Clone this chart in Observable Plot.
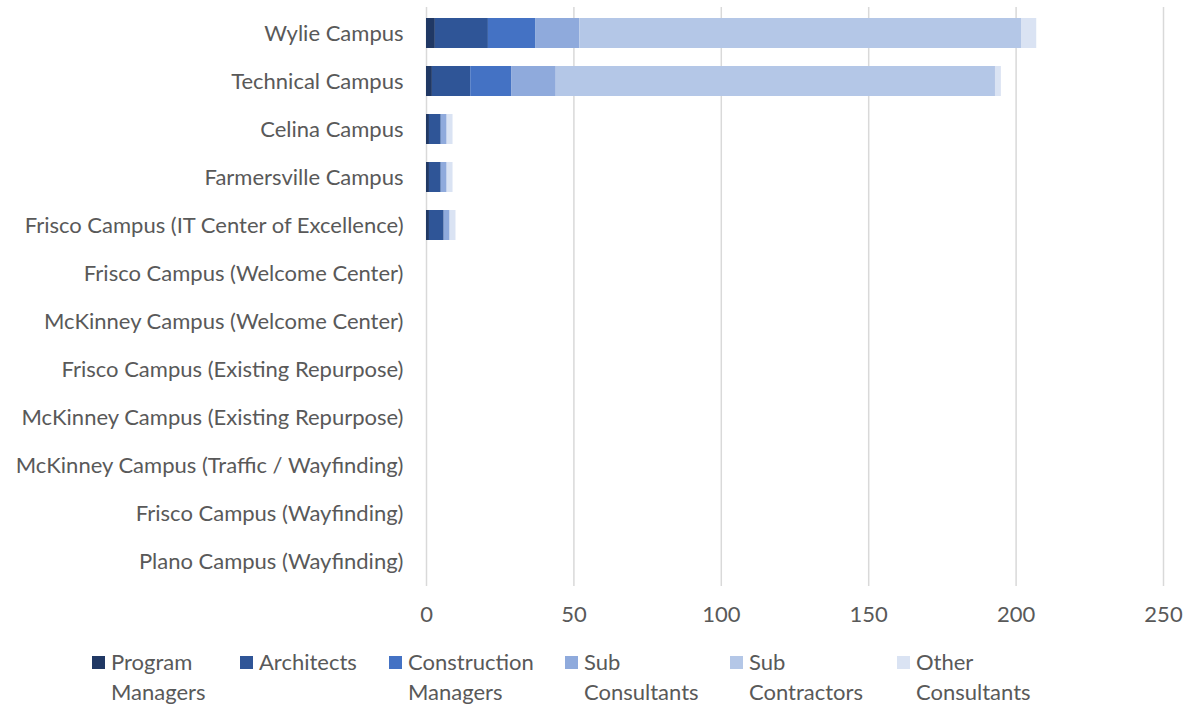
<!DOCTYPE html>
<html>
<head>
<meta charset="utf-8">
<script src="https://cdn.jsdelivr.net/npm/d3@7"></script>
<script src="https://cdn.jsdelivr.net/npm/@observablehq/plot@0.6"></script>
<style>
  html, body { margin: 0; padding: 0; background: #fff; }
  body { width: 1195px; height: 706px; overflow: hidden; font-family: Lato, sans-serif; }
  #chart svg { display: block; }
  #legend { position: relative; height: 66px; color: #595959; font-size: 22px; font-family: Lato, sans-serif; }
  .item { position: absolute; top: 7px; display: flex; align-items: flex-start; }
  .sw { width: 13px; height: 13px; margin-top: 9px; margin-right: 6px; flex: none; }
  .lab { white-space: pre-line; line-height: 30px; }
</style>
</head>
<body>
<div id="chart"></div>
<div id="legend"></div>
<script>
const campuses = [
  "Wylie Campus",
  "Technical Campus",
  "Celina Campus",
  "Farmersville Campus",
  "Frisco Campus (IT Center of Excellence)",
  "Frisco Campus (Welcome Center)",
  "McKinney Campus (Welcome Center)",
  "Frisco Campus (Existing Repurpose)",
  "McKinney Campus (Existing Repurpose)",
  "McKinney Campus (Traffic / Wayfinding)",
  "Frisco Campus (Wayfinding)",
  "Plano Campus (Wayfinding)"
];
const types = ["Program Managers", "Architects", "Construction Managers", "Sub Consultants", "Sub Contractors", "Other Consultants"];
const legendLabels = ["Program\nManagers", "Architects", "Construction\nManagers", "Sub\nConsultants", "Sub\nContractors", "Other\nConsultants"];
const colors = ["#203864", "#2f5597", "#4472c4", "#8faadc", "#b4c7e7", "#dae3f3"];

const programManagers      = [3, 2, 1, 1, 1, 0, 0, 0, 0, 0, 0, 0];
const architects           = [18, 13, 4, 4, 5, 0, 0, 0, 0, 0, 0, 0];
const constructionManagers = [16, 14, 0, 0, 0, 0, 0, 0, 0, 0, 0, 0];
const subConsultants       = [15, 15, 2, 2, 2, 0, 0, 0, 0, 0, 0, 0];
const subContractors       = [150, 149, 0, 0, 0, 0, 0, 0, 0, 0, 0, 0];
const otherConsultants     = [5, 2, 2, 2, 2, 0, 0, 0, 0, 0, 0, 0];
const xTicks = [0, 50, 100, 150, 200, 250];

const series = [programManagers, architects, constructionManagers, subConsultants, subContractors, otherConsultants];
const data = [];
campuses.forEach((c, i) => {
  types.forEach((t, j) => data.push({campus: c, type: t, value: series[j][i]}));
});

const chart = Plot.plot({
  width: 1195,
  height: 640,
  marginLeft: 426,
  marginRight: 32,
  marginTop: 7,
  marginBottom: 54,
  style: {fontFamily: "Lato, sans-serif", fontSize: "22px", color: "#595959", background: "#fff"},
  x: {domain: [0, 250], ticks: xTicks, tickSize: 0, tickPadding: 18, label: null},
  y: {domain: campuses, paddingInner: 0.38, paddingOuter: 0.19, tickSize: 0, tickPadding: 23, label: null},
  color: {domain: types, range: colors},
  marks: [
    Plot.gridX(xTicks.filter(d => d > 0), {stroke: "#d9d9d9", strokeOpacity: 1, strokeWidth: 1.5}),
    Plot.ruleX([0], {stroke: "#d9d9d9", strokeWidth: 1.5}),
    Plot.barX(data, {x: "value", y: "campus", fill: "type", order: null}),
    Plot.axisX({ticks: xTicks, tickSize: 0, tickPadding: 20, fill: "#595959"}),
    Plot.axisY({tickSize: 0, tickPadding: 23, fill: "#595959"})
  ]
});
document.getElementById("chart").appendChild(chart);

const lefts = [92, 240, 389, 565, 730, 897];
const legend = document.getElementById("legend");
types.forEach((t, i) => {
  const it = document.createElement("div");
  it.className = "item";
  it.style.left = lefts[i] + "px";
  const sw = document.createElement("div");
  sw.className = "sw";
  sw.style.background = colors[i];
  const lab = document.createElement("div");
  lab.className = "lab";
  lab.textContent = legendLabels[i];
  it.appendChild(sw); it.appendChild(lab);
  legend.appendChild(it);
});
</script>
</body>
</html>
